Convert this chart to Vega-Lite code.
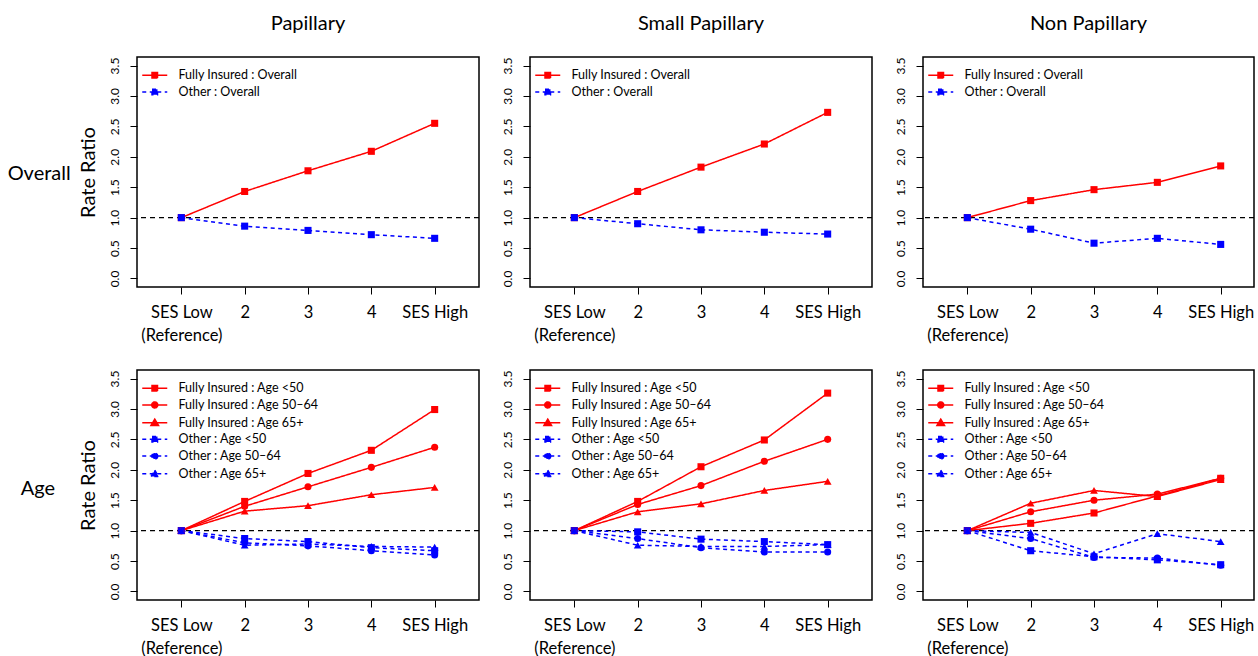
{
"$schema": "https://vega.github.io/schema/vega-lite/v6.json",
"padding": {"left": 7, "top": 13, "right": 0, "bottom": 0},
"background": "#ffffff",
"data": {"values": [
{"p":"Papillary","g":"Overall","s":"Fully Insured : Overall","x":1,"v":1.0},
{"p":"Papillary","g":"Overall","s":"Fully Insured : Overall","x":2,"v":1.43},
{"p":"Papillary","g":"Overall","s":"Fully Insured : Overall","x":3,"v":1.77},
{"p":"Papillary","g":"Overall","s":"Fully Insured : Overall","x":4,"v":2.09},
{"p":"Papillary","g":"Overall","s":"Fully Insured : Overall","x":5,"v":2.55},
{"p":"Papillary","g":"Overall","s":"Other : Overall","x":1,"v":1.0},
{"p":"Papillary","g":"Overall","s":"Other : Overall","x":2,"v":0.86},
{"p":"Papillary","g":"Overall","s":"Other : Overall","x":3,"v":0.79},
{"p":"Papillary","g":"Overall","s":"Other : Overall","x":4,"v":0.72},
{"p":"Papillary","g":"Overall","s":"Other : Overall","x":5,"v":0.66},
{"p":"Small Papillary","g":"Overall","s":"Fully Insured : Overall","x":1,"v":1.0},
{"p":"Small Papillary","g":"Overall","s":"Fully Insured : Overall","x":2,"v":1.43},
{"p":"Small Papillary","g":"Overall","s":"Fully Insured : Overall","x":3,"v":1.83},
{"p":"Small Papillary","g":"Overall","s":"Fully Insured : Overall","x":4,"v":2.21},
{"p":"Small Papillary","g":"Overall","s":"Fully Insured : Overall","x":5,"v":2.73},
{"p":"Small Papillary","g":"Overall","s":"Other : Overall","x":1,"v":1.0},
{"p":"Small Papillary","g":"Overall","s":"Other : Overall","x":2,"v":0.90},
{"p":"Small Papillary","g":"Overall","s":"Other : Overall","x":3,"v":0.80},
{"p":"Small Papillary","g":"Overall","s":"Other : Overall","x":4,"v":0.76},
{"p":"Small Papillary","g":"Overall","s":"Other : Overall","x":5,"v":0.73},
{"p":"Non Papillary","g":"Overall","s":"Fully Insured : Overall","x":1,"v":1.0},
{"p":"Non Papillary","g":"Overall","s":"Fully Insured : Overall","x":2,"v":1.28},
{"p":"Non Papillary","g":"Overall","s":"Fully Insured : Overall","x":3,"v":1.46},
{"p":"Non Papillary","g":"Overall","s":"Fully Insured : Overall","x":4,"v":1.58},
{"p":"Non Papillary","g":"Overall","s":"Fully Insured : Overall","x":5,"v":1.85},
{"p":"Non Papillary","g":"Overall","s":"Other : Overall","x":1,"v":1.0},
{"p":"Non Papillary","g":"Overall","s":"Other : Overall","x":2,"v":0.81},
{"p":"Non Papillary","g":"Overall","s":"Other : Overall","x":3,"v":0.58},
{"p":"Non Papillary","g":"Overall","s":"Other : Overall","x":4,"v":0.66},
{"p":"Non Papillary","g":"Overall","s":"Other : Overall","x":5,"v":0.56},
{"p":"Papillary","g":"Age","s":"Fully Insured : Age <50","x":1,"v":1.0},
{"p":"Papillary","g":"Age","s":"Fully Insured : Age <50","x":2,"v":1.48},
{"p":"Papillary","g":"Age","s":"Fully Insured : Age <50","x":3,"v":1.94},
{"p":"Papillary","g":"Age","s":"Fully Insured : Age <50","x":4,"v":2.32},
{"p":"Papillary","g":"Age","s":"Fully Insured : Age <50","x":5,"v":2.99},
{"p":"Papillary","g":"Age","s":"Fully Insured : Age 50–64","x":1,"v":1.0},
{"p":"Papillary","g":"Age","s":"Fully Insured : Age 50–64","x":2,"v":1.40},
{"p":"Papillary","g":"Age","s":"Fully Insured : Age 50–64","x":3,"v":1.72},
{"p":"Papillary","g":"Age","s":"Fully Insured : Age 50–64","x":4,"v":2.04},
{"p":"Papillary","g":"Age","s":"Fully Insured : Age 50–64","x":5,"v":2.37},
{"p":"Papillary","g":"Age","s":"Fully Insured : Age 65+","x":1,"v":1.0},
{"p":"Papillary","g":"Age","s":"Fully Insured : Age 65+","x":2,"v":1.32},
{"p":"Papillary","g":"Age","s":"Fully Insured : Age 65+","x":3,"v":1.41},
{"p":"Papillary","g":"Age","s":"Fully Insured : Age 65+","x":4,"v":1.59},
{"p":"Papillary","g":"Age","s":"Fully Insured : Age 65+","x":5,"v":1.71},
{"p":"Papillary","g":"Age","s":"Other : Age <50","x":1,"v":1.0},
{"p":"Papillary","g":"Age","s":"Other : Age <50","x":2,"v":0.87},
{"p":"Papillary","g":"Age","s":"Other : Age <50","x":3,"v":0.82},
{"p":"Papillary","g":"Age","s":"Other : Age <50","x":4,"v":0.72},
{"p":"Papillary","g":"Age","s":"Other : Age <50","x":5,"v":0.67},
{"p":"Papillary","g":"Age","s":"Other : Age 50–64","x":1,"v":1.0},
{"p":"Papillary","g":"Age","s":"Other : Age 50–64","x":2,"v":0.80},
{"p":"Papillary","g":"Age","s":"Other : Age 50–64","x":3,"v":0.75},
{"p":"Papillary","g":"Age","s":"Other : Age 50–64","x":4,"v":0.67},
{"p":"Papillary","g":"Age","s":"Other : Age 50–64","x":5,"v":0.60},
{"p":"Papillary","g":"Age","s":"Other : Age 65+","x":1,"v":1.0},
{"p":"Papillary","g":"Age","s":"Other : Age 65+","x":2,"v":0.76},
{"p":"Papillary","g":"Age","s":"Other : Age 65+","x":3,"v":0.78},
{"p":"Papillary","g":"Age","s":"Other : Age 65+","x":4,"v":0.74},
{"p":"Papillary","g":"Age","s":"Other : Age 65+","x":5,"v":0.73},
{"p":"Small Papillary","g":"Age","s":"Fully Insured : Age <50","x":1,"v":1.0},
{"p":"Small Papillary","g":"Age","s":"Fully Insured : Age <50","x":2,"v":1.48},
{"p":"Small Papillary","g":"Age","s":"Fully Insured : Age <50","x":3,"v":2.05},
{"p":"Small Papillary","g":"Age","s":"Fully Insured : Age <50","x":4,"v":2.49},
{"p":"Small Papillary","g":"Age","s":"Fully Insured : Age <50","x":5,"v":3.26},
{"p":"Small Papillary","g":"Age","s":"Fully Insured : Age 50–64","x":1,"v":1.0},
{"p":"Small Papillary","g":"Age","s":"Fully Insured : Age 50–64","x":2,"v":1.43},
{"p":"Small Papillary","g":"Age","s":"Fully Insured : Age 50–64","x":3,"v":1.74},
{"p":"Small Papillary","g":"Age","s":"Fully Insured : Age 50–64","x":4,"v":2.14},
{"p":"Small Papillary","g":"Age","s":"Fully Insured : Age 50–64","x":5,"v":2.50},
{"p":"Small Papillary","g":"Age","s":"Fully Insured : Age 65+","x":1,"v":1.0},
{"p":"Small Papillary","g":"Age","s":"Fully Insured : Age 65+","x":2,"v":1.31},
{"p":"Small Papillary","g":"Age","s":"Fully Insured : Age 65+","x":3,"v":1.44},
{"p":"Small Papillary","g":"Age","s":"Fully Insured : Age 65+","x":4,"v":1.66},
{"p":"Small Papillary","g":"Age","s":"Fully Insured : Age 65+","x":5,"v":1.81},
{"p":"Small Papillary","g":"Age","s":"Other : Age <50","x":1,"v":1.0},
{"p":"Small Papillary","g":"Age","s":"Other : Age <50","x":2,"v":0.98},
{"p":"Small Papillary","g":"Age","s":"Other : Age <50","x":3,"v":0.86},
{"p":"Small Papillary","g":"Age","s":"Other : Age <50","x":4,"v":0.82},
{"p":"Small Papillary","g":"Age","s":"Other : Age <50","x":5,"v":0.77},
{"p":"Small Papillary","g":"Age","s":"Other : Age 50–64","x":1,"v":1.0},
{"p":"Small Papillary","g":"Age","s":"Other : Age 50–64","x":2,"v":0.87},
{"p":"Small Papillary","g":"Age","s":"Other : Age 50–64","x":3,"v":0.72},
{"p":"Small Papillary","g":"Age","s":"Other : Age 50–64","x":4,"v":0.65},
{"p":"Small Papillary","g":"Age","s":"Other : Age 50–64","x":5,"v":0.65},
{"p":"Small Papillary","g":"Age","s":"Other : Age 65+","x":1,"v":1.0},
{"p":"Small Papillary","g":"Age","s":"Other : Age 65+","x":2,"v":0.76},
{"p":"Small Papillary","g":"Age","s":"Other : Age 65+","x":3,"v":0.74},
{"p":"Small Papillary","g":"Age","s":"Other : Age 65+","x":4,"v":0.74},
{"p":"Small Papillary","g":"Age","s":"Other : Age 65+","x":5,"v":0.77},
{"p":"Non Papillary","g":"Age","s":"Fully Insured : Age <50","x":1,"v":1.0},
{"p":"Non Papillary","g":"Age","s":"Fully Insured : Age <50","x":2,"v":1.12},
{"p":"Non Papillary","g":"Age","s":"Fully Insured : Age <50","x":3,"v":1.29},
{"p":"Non Papillary","g":"Age","s":"Fully Insured : Age <50","x":4,"v":1.57},
{"p":"Non Papillary","g":"Age","s":"Fully Insured : Age <50","x":5,"v":1.86},
{"p":"Non Papillary","g":"Age","s":"Fully Insured : Age 50–64","x":1,"v":1.0},
{"p":"Non Papillary","g":"Age","s":"Fully Insured : Age 50–64","x":2,"v":1.31},
{"p":"Non Papillary","g":"Age","s":"Fully Insured : Age 50–64","x":3,"v":1.50},
{"p":"Non Papillary","g":"Age","s":"Fully Insured : Age 50–64","x":4,"v":1.60},
{"p":"Non Papillary","g":"Age","s":"Fully Insured : Age 50–64","x":5,"v":1.86},
{"p":"Non Papillary","g":"Age","s":"Fully Insured : Age 65+","x":1,"v":1.0},
{"p":"Non Papillary","g":"Age","s":"Fully Insured : Age 65+","x":2,"v":1.45},
{"p":"Non Papillary","g":"Age","s":"Fully Insured : Age 65+","x":3,"v":1.66},
{"p":"Non Papillary","g":"Age","s":"Fully Insured : Age 65+","x":4,"v":1.56},
{"p":"Non Papillary","g":"Age","s":"Fully Insured : Age 65+","x":5,"v":1.84},
{"p":"Non Papillary","g":"Age","s":"Other : Age <50","x":1,"v":1.0},
{"p":"Non Papillary","g":"Age","s":"Other : Age <50","x":2,"v":0.67},
{"p":"Non Papillary","g":"Age","s":"Other : Age <50","x":3,"v":0.57},
{"p":"Non Papillary","g":"Age","s":"Other : Age <50","x":4,"v":0.52},
{"p":"Non Papillary","g":"Age","s":"Other : Age <50","x":5,"v":0.44},
{"p":"Non Papillary","g":"Age","s":"Other : Age 50–64","x":1,"v":1.0},
{"p":"Non Papillary","g":"Age","s":"Other : Age 50–64","x":2,"v":0.87},
{"p":"Non Papillary","g":"Age","s":"Other : Age 50–64","x":3,"v":0.56},
{"p":"Non Papillary","g":"Age","s":"Other : Age 50–64","x":4,"v":0.55},
{"p":"Non Papillary","g":"Age","s":"Other : Age 50–64","x":5,"v":0.43},
{"p":"Non Papillary","g":"Age","s":"Other : Age 65+","x":1,"v":1.0},
{"p":"Non Papillary","g":"Age","s":"Other : Age 65+","x":2,"v":0.97},
{"p":"Non Papillary","g":"Age","s":"Other : Age 65+","x":3,"v":0.62},
{"p":"Non Papillary","g":"Age","s":"Other : Age 65+","x":4,"v":0.95},
{"p":"Non Papillary","g":"Age","s":"Other : Age 65+","x":5,"v":0.82}
]},
"vconcat": [
{
"title": {"text": "Overall", "orient": "left", "angle": 0, "align": "center", "baseline": "middle", "anchor": "middle", "offset": -25, "dy": -5, "fontSize": 20},
"bounds": "flush",
"spacing": 51,
"resolve": {"scale": {"color": "independent", "shape": "independent", "strokeDash": "independent"}, "legend": {"color": "independent"}},
"hconcat": [
{"width": 342, "height": 230, "title": {"text": "Papillary"},
 "encoding": {"color": {"field": "s", "type": "nominal", "scale": {"domain": ["Fully Insured : Overall", "Other : Overall"], "range": ["#ff0000", "#0000ff"]}, "legend": {"title": null, "orient": "none", "legendX": 4, "legendY": 12}}},
 "layer": [
  {"data": {"values": [{"v": 1}]}, "mark": {"type": "rule", "strokeDash": [5, 4], "strokeWidth": 1.2}, "encoding": {"y": {"field": "v", "type": "quantitative", "scale": {"domain": [-0.14, 3.64], "nice": false, "zero": false}, "axis": {"values": [0, 0.5, 1, 1.5, 2, 2.5, 3, 3.5], "format": ".1f", "labelOverlap": false, "labelBound": false, "title": "Rate Ratio"}}, "color": {"value": "#000000"}}},
  {"transform": [{"filter": "datum.p === 'Papillary' && datum.g === 'Overall'"}], "mark": {"type": "line", "strokeWidth": 1.5},
   "encoding": {"x": {"field": "x", "type": "quantitative", "scale": {"domain": [0.3, 5.7], "nice": false, "zero": false}, "axis": {"values": [1, 2, 3, 4, 5], "title": null, "labelExpr": "datum.value == 1 ? ['SES Low', '(Reference)'] : datum.value == 5 ? 'SES High' : format(datum.value, 'd')"}},
    "y": {"field": "v", "type": "quantitative", "scale": {"domain": [-0.14, 3.64], "nice": false, "zero": false}, "axis": {"values": [0, 0.5, 1, 1.5, 2, 2.5, 3, 3.5], "format": ".1f", "labelOverlap": false, "labelBound": false, "title": "Rate Ratio"}},
    "strokeDash": {"field": "s", "type": "nominal", "scale": {"domain": ["Fully Insured : Overall", "Other : Overall"], "range": [[1, 0], [4, 3.5]]}}}},
  {"transform": [{"filter": "datum.p === 'Papillary' && datum.g === 'Overall'"}], "mark": {"type": "point", "filled": true, "opacity": 0},
   "encoding": {"x": {"field": "x", "type": "quantitative"}, "y": {"field": "v", "type": "quantitative", "axis": {"values": [0, 0.5, 1, 1.5, 2, 2.5, 3, 3.5], "format": ".1f", "labelOverlap": false, "labelBound": false, "title": "Rate Ratio"}},
    "shape": {"field": "s", "type": "nominal", "scale": {"domain": ["Fully Insured : Overall", "Other : Overall"], "range": ["M-1,0H4M0.95,-0.55H2.05V0.55H0.95Z", "M-1,0H4M0.95,-0.55H2.05V0.55H0.95Z"]}}}},
  {"transform": [{"filter": "datum.p === 'Papillary' && datum.g === 'Overall'"}], "mark": {"type": "point", "filled": true, "size": 50, "opacity": 1, "shape": "square"},
   "encoding": {"x": {"field": "x", "type": "quantitative"}, "y": {"field": "v", "type": "quantitative", "axis": {"values": [0, 0.5, 1, 1.5, 2, 2.5, 3, 3.5], "format": ".1f", "labelOverlap": false, "labelBound": false, "title": "Rate Ratio"}}}}
 ]},
{"width": 342, "height": 230, "title": {"text": "Small Papillary"},
 "encoding": {"color": {"field": "s", "type": "nominal", "scale": {"domain": ["Fully Insured : Overall", "Other : Overall"], "range": ["#ff0000", "#0000ff"]}, "legend": {"title": null, "orient": "none", "legendX": 4, "legendY": 12}}},
 "layer": [
  {"data": {"values": [{"v": 1}]}, "mark": {"type": "rule", "strokeDash": [5, 4], "strokeWidth": 1.2}, "encoding": {"y": {"field": "v", "type": "quantitative", "scale": {"domain": [-0.14, 3.64], "nice": false, "zero": false}, "axis": {"values": [0, 0.5, 1, 1.5, 2, 2.5, 3, 3.5], "format": ".1f", "labelOverlap": false, "labelBound": false, "title": null}}, "color": {"value": "#000000"}}},
  {"transform": [{"filter": "datum.p === 'Small Papillary' && datum.g === 'Overall'"}], "mark": {"type": "line", "strokeWidth": 1.5},
   "encoding": {"x": {"field": "x", "type": "quantitative", "scale": {"domain": [0.3, 5.7], "nice": false, "zero": false}, "axis": {"values": [1, 2, 3, 4, 5], "title": null, "labelExpr": "datum.value == 1 ? ['SES Low', '(Reference)'] : datum.value == 5 ? 'SES High' : format(datum.value, 'd')"}},
    "y": {"field": "v", "type": "quantitative", "scale": {"domain": [-0.14, 3.64], "nice": false, "zero": false}, "axis": {"values": [0, 0.5, 1, 1.5, 2, 2.5, 3, 3.5], "format": ".1f", "labelOverlap": false, "labelBound": false, "title": null}},
    "strokeDash": {"field": "s", "type": "nominal", "scale": {"domain": ["Fully Insured : Overall", "Other : Overall"], "range": [[1, 0], [4, 3.5]]}}}},
  {"transform": [{"filter": "datum.p === 'Small Papillary' && datum.g === 'Overall'"}], "mark": {"type": "point", "filled": true, "opacity": 0},
   "encoding": {"x": {"field": "x", "type": "quantitative"}, "y": {"field": "v", "type": "quantitative", "axis": {"values": [0, 0.5, 1, 1.5, 2, 2.5, 3, 3.5], "format": ".1f", "labelOverlap": false, "labelBound": false, "title": null}},
    "shape": {"field": "s", "type": "nominal", "scale": {"domain": ["Fully Insured : Overall", "Other : Overall"], "range": ["M-1,0H4M0.95,-0.55H2.05V0.55H0.95Z", "M-1,0H4M0.95,-0.55H2.05V0.55H0.95Z"]}}}},
  {"transform": [{"filter": "datum.p === 'Small Papillary' && datum.g === 'Overall'"}], "mark": {"type": "point", "filled": true, "size": 50, "opacity": 1, "shape": "square"},
   "encoding": {"x": {"field": "x", "type": "quantitative"}, "y": {"field": "v", "type": "quantitative", "axis": {"values": [0, 0.5, 1, 1.5, 2, 2.5, 3, 3.5], "format": ".1f", "labelOverlap": false, "labelBound": false, "title": null}}}}
 ]},
{"width": 331, "height": 230, "title": {"text": "Non Papillary"},
 "encoding": {"color": {"field": "s", "type": "nominal", "scale": {"domain": ["Fully Insured : Overall", "Other : Overall"], "range": ["#ff0000", "#0000ff"]}, "legend": {"title": null, "orient": "none", "legendX": 4, "legendY": 12}}},
 "layer": [
  {"data": {"values": [{"v": 1}]}, "mark": {"type": "rule", "strokeDash": [5, 4], "strokeWidth": 1.2}, "encoding": {"y": {"field": "v", "type": "quantitative", "scale": {"domain": [-0.14, 3.64], "nice": false, "zero": false}, "axis": {"values": [0, 0.5, 1, 1.5, 2, 2.5, 3, 3.5], "format": ".1f", "labelOverlap": false, "labelBound": false, "title": null}}, "color": {"value": "#000000"}}},
  {"transform": [{"filter": "datum.p === 'Non Papillary' && datum.g === 'Overall'"}], "mark": {"type": "line", "strokeWidth": 1.5},
   "encoding": {"x": {"field": "x", "type": "quantitative", "scale": {"domain": [0.3, 5.526], "nice": false, "zero": false}, "axis": {"values": [1, 2, 3, 4, 5], "title": null, "labelExpr": "datum.value == 1 ? ['SES Low', '(Reference)'] : datum.value == 5 ? 'SES High' : format(datum.value, 'd')"}},
    "y": {"field": "v", "type": "quantitative", "scale": {"domain": [-0.14, 3.64], "nice": false, "zero": false}, "axis": {"values": [0, 0.5, 1, 1.5, 2, 2.5, 3, 3.5], "format": ".1f", "labelOverlap": false, "labelBound": false, "title": null}},
    "strokeDash": {"field": "s", "type": "nominal", "scale": {"domain": ["Fully Insured : Overall", "Other : Overall"], "range": [[1, 0], [4, 3.5]]}}}},
  {"transform": [{"filter": "datum.p === 'Non Papillary' && datum.g === 'Overall'"}], "mark": {"type": "point", "filled": true, "opacity": 0},
   "encoding": {"x": {"field": "x", "type": "quantitative"}, "y": {"field": "v", "type": "quantitative", "axis": {"values": [0, 0.5, 1, 1.5, 2, 2.5, 3, 3.5], "format": ".1f", "labelOverlap": false, "labelBound": false, "title": null}},
    "shape": {"field": "s", "type": "nominal", "scale": {"domain": ["Fully Insured : Overall", "Other : Overall"], "range": ["M-1,0H4M0.95,-0.55H2.05V0.55H0.95Z", "M-1,0H4M0.95,-0.55H2.05V0.55H0.95Z"]}}}},
  {"transform": [{"filter": "datum.p === 'Non Papillary' && datum.g === 'Overall'"}], "mark": {"type": "point", "filled": true, "size": 50, "opacity": 1, "shape": "square"},
   "encoding": {"x": {"field": "x", "type": "quantitative"}, "y": {"field": "v", "type": "quantitative", "axis": {"values": [0, 0.5, 1, 1.5, 2, 2.5, 3, 3.5], "format": ".1f", "labelOverlap": false, "labelBound": false, "title": null}}}}
 ]}
]
},
{
"title": {"text": "Age", "orient": "left", "angle": 0, "align": "center", "baseline": "middle", "anchor": "middle", "offset": 5, "dy": -24, "fontSize": 20},
"bounds": "flush",
"spacing": 51,
"resolve": {"scale": {"color": "independent", "shape": "independent", "strokeDash": "independent"}, "legend": {"color": "independent"}},
"hconcat": [
{"width": 342, "height": 230,
 "encoding": {"color": {"field": "s", "type": "nominal", "scale": {"domain": ["Fully Insured : Age <50", "Fully Insured : Age 50–64", "Fully Insured : Age 65+", "Other : Age <50", "Other : Age 50–64", "Other : Age 65+"], "range": ["#ff0000", "#ff0000", "#ff0000", "#0000ff", "#0000ff", "#0000ff"]}, "legend": {"title": null, "orient": "none", "legendX": 4, "legendY": 12}}},
 "layer": [
  {"data": {"values": [{"v": 1}]}, "mark": {"type": "rule", "strokeDash": [5, 4], "strokeWidth": 1.2}, "encoding": {"y": {"field": "v", "type": "quantitative", "scale": {"domain": [-0.14, 3.64], "nice": false, "zero": false}, "axis": {"values": [0, 0.5, 1, 1.5, 2, 2.5, 3, 3.5], "format": ".1f", "labelOverlap": false, "labelBound": false, "title": "Rate Ratio"}}, "color": {"value": "#000000"}}},
  {"transform": [{"filter": "datum.p === 'Papillary' && datum.g === 'Age'"}], "mark": {"type": "line", "strokeWidth": 1.5},
   "encoding": {"x": {"field": "x", "type": "quantitative", "scale": {"domain": [0.3, 5.7], "nice": false, "zero": false}, "axis": {"values": [1, 2, 3, 4, 5], "title": null, "labelExpr": "datum.value == 1 ? ['SES Low', '(Reference)'] : datum.value == 5 ? 'SES High' : format(datum.value, 'd')"}},
    "y": {"field": "v", "type": "quantitative", "scale": {"domain": [-0.14, 3.64], "nice": false, "zero": false}, "axis": {"values": [0, 0.5, 1, 1.5, 2, 2.5, 3, 3.5], "format": ".1f", "labelOverlap": false, "labelBound": false, "title": "Rate Ratio"}},
    "strokeDash": {"field": "s", "type": "nominal", "scale": {"domain": ["Fully Insured : Age <50", "Fully Insured : Age 50–64", "Fully Insured : Age 65+", "Other : Age <50", "Other : Age 50–64", "Other : Age 65+"], "range": [[1, 0], [1, 0], [1, 0], [4, 3.5], [4, 3.5], [4, 3.5]]}}}},
  {"transform": [{"filter": "datum.p === 'Papillary' && datum.g === 'Age'"}], "mark": {"type": "point", "filled": true, "opacity": 0},
   "encoding": {"x": {"field": "x", "type": "quantitative"}, "y": {"field": "v", "type": "quantitative", "axis": {"values": [0, 0.5, 1, 1.5, 2, 2.5, 3, 3.5], "format": ".1f", "labelOverlap": false, "labelBound": false, "title": "Rate Ratio"}},
    "shape": {"field": "s", "type": "nominal", "scale": {"domain": ["Fully Insured : Age <50", "Fully Insured : Age 50–64", "Fully Insured : Age 65+", "Other : Age <50", "Other : Age 50–64", "Other : Age 65+"], "range": ["M-1,0H4M0.95,-0.55H2.05V0.55H0.95Z", "M-1,0H4M2.1,0A0.6,0.6,0,1,1,0.9,0A0.6,0.6,0,1,1,2.1,0Z", "M-1,0H4M1.5,-0.7L2.25,0.55H0.75Z", "M-1,0H4M0.95,-0.55H2.05V0.55H0.95Z", "M-1,0H4M2.1,0A0.6,0.6,0,1,1,0.9,0A0.6,0.6,0,1,1,2.1,0Z", "M-1,0H4M1.5,-0.7L2.25,0.55H0.75Z"]}}}},
  {"transform": [{"filter": "datum.p === 'Papillary' && datum.g === 'Age' && indexof(datum.s, '<50') >= 0"}], "mark": {"type": "point", "filled": true, "size": 50, "opacity": 1, "shape": "square"},
   "encoding": {"x": {"field": "x", "type": "quantitative"}, "y": {"field": "v", "type": "quantitative", "axis": {"values": [0, 0.5, 1, 1.5, 2, 2.5, 3, 3.5], "format": ".1f", "labelOverlap": false, "labelBound": false, "title": "Rate Ratio"}}}},
  {"transform": [{"filter": "datum.p === 'Papillary' && datum.g === 'Age' && indexof(datum.s, '50–64') >= 0"}], "mark": {"type": "point", "filled": true, "size": 50, "opacity": 1, "shape": "circle"},
   "encoding": {"x": {"field": "x", "type": "quantitative"}, "y": {"field": "v", "type": "quantitative", "axis": {"values": [0, 0.5, 1, 1.5, 2, 2.5, 3, 3.5], "format": ".1f", "labelOverlap": false, "labelBound": false, "title": "Rate Ratio"}}}},
  {"transform": [{"filter": "datum.p === 'Papillary' && datum.g === 'Age' && indexof(datum.s, '65+') >= 0"}], "mark": {"type": "point", "filled": true, "size": 60, "opacity": 1, "shape": "triangle-up"},
   "encoding": {"x": {"field": "x", "type": "quantitative"}, "y": {"field": "v", "type": "quantitative", "axis": {"values": [0, 0.5, 1, 1.5, 2, 2.5, 3, 3.5], "format": ".1f", "labelOverlap": false, "labelBound": false, "title": "Rate Ratio"}}}}
 ]},
{"width": 342, "height": 230,
 "encoding": {"color": {"field": "s", "type": "nominal", "scale": {"domain": ["Fully Insured : Age <50", "Fully Insured : Age 50–64", "Fully Insured : Age 65+", "Other : Age <50", "Other : Age 50–64", "Other : Age 65+"], "range": ["#ff0000", "#ff0000", "#ff0000", "#0000ff", "#0000ff", "#0000ff"]}, "legend": {"title": null, "orient": "none", "legendX": 4, "legendY": 12}}},
 "layer": [
  {"data": {"values": [{"v": 1}]}, "mark": {"type": "rule", "strokeDash": [5, 4], "strokeWidth": 1.2}, "encoding": {"y": {"field": "v", "type": "quantitative", "scale": {"domain": [-0.14, 3.64], "nice": false, "zero": false}, "axis": {"values": [0, 0.5, 1, 1.5, 2, 2.5, 3, 3.5], "format": ".1f", "labelOverlap": false, "labelBound": false, "title": null}}, "color": {"value": "#000000"}}},
  {"transform": [{"filter": "datum.p === 'Small Papillary' && datum.g === 'Age'"}], "mark": {"type": "line", "strokeWidth": 1.5},
   "encoding": {"x": {"field": "x", "type": "quantitative", "scale": {"domain": [0.3, 5.7], "nice": false, "zero": false}, "axis": {"values": [1, 2, 3, 4, 5], "title": null, "labelExpr": "datum.value == 1 ? ['SES Low', '(Reference)'] : datum.value == 5 ? 'SES High' : format(datum.value, 'd')"}},
    "y": {"field": "v", "type": "quantitative", "scale": {"domain": [-0.14, 3.64], "nice": false, "zero": false}, "axis": {"values": [0, 0.5, 1, 1.5, 2, 2.5, 3, 3.5], "format": ".1f", "labelOverlap": false, "labelBound": false, "title": null}},
    "strokeDash": {"field": "s", "type": "nominal", "scale": {"domain": ["Fully Insured : Age <50", "Fully Insured : Age 50–64", "Fully Insured : Age 65+", "Other : Age <50", "Other : Age 50–64", "Other : Age 65+"], "range": [[1, 0], [1, 0], [1, 0], [4, 3.5], [4, 3.5], [4, 3.5]]}}}},
  {"transform": [{"filter": "datum.p === 'Small Papillary' && datum.g === 'Age'"}], "mark": {"type": "point", "filled": true, "opacity": 0},
   "encoding": {"x": {"field": "x", "type": "quantitative"}, "y": {"field": "v", "type": "quantitative", "axis": {"values": [0, 0.5, 1, 1.5, 2, 2.5, 3, 3.5], "format": ".1f", "labelOverlap": false, "labelBound": false, "title": null}},
    "shape": {"field": "s", "type": "nominal", "scale": {"domain": ["Fully Insured : Age <50", "Fully Insured : Age 50–64", "Fully Insured : Age 65+", "Other : Age <50", "Other : Age 50–64", "Other : Age 65+"], "range": ["M-1,0H4M0.95,-0.55H2.05V0.55H0.95Z", "M-1,0H4M2.1,0A0.6,0.6,0,1,1,0.9,0A0.6,0.6,0,1,1,2.1,0Z", "M-1,0H4M1.5,-0.7L2.25,0.55H0.75Z", "M-1,0H4M0.95,-0.55H2.05V0.55H0.95Z", "M-1,0H4M2.1,0A0.6,0.6,0,1,1,0.9,0A0.6,0.6,0,1,1,2.1,0Z", "M-1,0H4M1.5,-0.7L2.25,0.55H0.75Z"]}}}},
  {"transform": [{"filter": "datum.p === 'Small Papillary' && datum.g === 'Age' && indexof(datum.s, '<50') >= 0"}], "mark": {"type": "point", "filled": true, "size": 50, "opacity": 1, "shape": "square"},
   "encoding": {"x": {"field": "x", "type": "quantitative"}, "y": {"field": "v", "type": "quantitative", "axis": {"values": [0, 0.5, 1, 1.5, 2, 2.5, 3, 3.5], "format": ".1f", "labelOverlap": false, "labelBound": false, "title": null}}}},
  {"transform": [{"filter": "datum.p === 'Small Papillary' && datum.g === 'Age' && indexof(datum.s, '50–64') >= 0"}], "mark": {"type": "point", "filled": true, "size": 50, "opacity": 1, "shape": "circle"},
   "encoding": {"x": {"field": "x", "type": "quantitative"}, "y": {"field": "v", "type": "quantitative", "axis": {"values": [0, 0.5, 1, 1.5, 2, 2.5, 3, 3.5], "format": ".1f", "labelOverlap": false, "labelBound": false, "title": null}}}},
  {"transform": [{"filter": "datum.p === 'Small Papillary' && datum.g === 'Age' && indexof(datum.s, '65+') >= 0"}], "mark": {"type": "point", "filled": true, "size": 60, "opacity": 1, "shape": "triangle-up"},
   "encoding": {"x": {"field": "x", "type": "quantitative"}, "y": {"field": "v", "type": "quantitative", "axis": {"values": [0, 0.5, 1, 1.5, 2, 2.5, 3, 3.5], "format": ".1f", "labelOverlap": false, "labelBound": false, "title": null}}}}
 ]},
{"width": 331, "height": 230,
 "encoding": {"color": {"field": "s", "type": "nominal", "scale": {"domain": ["Fully Insured : Age <50", "Fully Insured : Age 50–64", "Fully Insured : Age 65+", "Other : Age <50", "Other : Age 50–64", "Other : Age 65+"], "range": ["#ff0000", "#ff0000", "#ff0000", "#0000ff", "#0000ff", "#0000ff"]}, "legend": {"title": null, "orient": "none", "legendX": 4, "legendY": 12}}},
 "layer": [
  {"data": {"values": [{"v": 1}]}, "mark": {"type": "rule", "strokeDash": [5, 4], "strokeWidth": 1.2}, "encoding": {"y": {"field": "v", "type": "quantitative", "scale": {"domain": [-0.14, 3.64], "nice": false, "zero": false}, "axis": {"values": [0, 0.5, 1, 1.5, 2, 2.5, 3, 3.5], "format": ".1f", "labelOverlap": false, "labelBound": false, "title": null}}, "color": {"value": "#000000"}}},
  {"transform": [{"filter": "datum.p === 'Non Papillary' && datum.g === 'Age'"}], "mark": {"type": "line", "strokeWidth": 1.5},
   "encoding": {"x": {"field": "x", "type": "quantitative", "scale": {"domain": [0.3, 5.526], "nice": false, "zero": false}, "axis": {"values": [1, 2, 3, 4, 5], "title": null, "labelExpr": "datum.value == 1 ? ['SES Low', '(Reference)'] : datum.value == 5 ? 'SES High' : format(datum.value, 'd')"}},
    "y": {"field": "v", "type": "quantitative", "scale": {"domain": [-0.14, 3.64], "nice": false, "zero": false}, "axis": {"values": [0, 0.5, 1, 1.5, 2, 2.5, 3, 3.5], "format": ".1f", "labelOverlap": false, "labelBound": false, "title": null}},
    "strokeDash": {"field": "s", "type": "nominal", "scale": {"domain": ["Fully Insured : Age <50", "Fully Insured : Age 50–64", "Fully Insured : Age 65+", "Other : Age <50", "Other : Age 50–64", "Other : Age 65+"], "range": [[1, 0], [1, 0], [1, 0], [4, 3.5], [4, 3.5], [4, 3.5]]}}}},
  {"transform": [{"filter": "datum.p === 'Non Papillary' && datum.g === 'Age'"}], "mark": {"type": "point", "filled": true, "opacity": 0},
   "encoding": {"x": {"field": "x", "type": "quantitative"}, "y": {"field": "v", "type": "quantitative", "axis": {"values": [0, 0.5, 1, 1.5, 2, 2.5, 3, 3.5], "format": ".1f", "labelOverlap": false, "labelBound": false, "title": null}},
    "shape": {"field": "s", "type": "nominal", "scale": {"domain": ["Fully Insured : Age <50", "Fully Insured : Age 50–64", "Fully Insured : Age 65+", "Other : Age <50", "Other : Age 50–64", "Other : Age 65+"], "range": ["M-1,0H4M0.95,-0.55H2.05V0.55H0.95Z", "M-1,0H4M2.1,0A0.6,0.6,0,1,1,0.9,0A0.6,0.6,0,1,1,2.1,0Z", "M-1,0H4M1.5,-0.7L2.25,0.55H0.75Z", "M-1,0H4M0.95,-0.55H2.05V0.55H0.95Z", "M-1,0H4M2.1,0A0.6,0.6,0,1,1,0.9,0A0.6,0.6,0,1,1,2.1,0Z", "M-1,0H4M1.5,-0.7L2.25,0.55H0.75Z"]}}}},
  {"transform": [{"filter": "datum.p === 'Non Papillary' && datum.g === 'Age' && indexof(datum.s, '<50') >= 0"}], "mark": {"type": "point", "filled": true, "size": 50, "opacity": 1, "shape": "square"},
   "encoding": {"x": {"field": "x", "type": "quantitative"}, "y": {"field": "v", "type": "quantitative", "axis": {"values": [0, 0.5, 1, 1.5, 2, 2.5, 3, 3.5], "format": ".1f", "labelOverlap": false, "labelBound": false, "title": null}}}},
  {"transform": [{"filter": "datum.p === 'Non Papillary' && datum.g === 'Age' && indexof(datum.s, '50–64') >= 0"}], "mark": {"type": "point", "filled": true, "size": 50, "opacity": 1, "shape": "circle"},
   "encoding": {"x": {"field": "x", "type": "quantitative"}, "y": {"field": "v", "type": "quantitative", "axis": {"values": [0, 0.5, 1, 1.5, 2, 2.5, 3, 3.5], "format": ".1f", "labelOverlap": false, "labelBound": false, "title": null}}}},
  {"transform": [{"filter": "datum.p === 'Non Papillary' && datum.g === 'Age' && indexof(datum.s, '65+') >= 0"}], "mark": {"type": "point", "filled": true, "size": 60, "opacity": 1, "shape": "triangle-up"},
   "encoding": {"x": {"field": "x", "type": "quantitative"}, "y": {"field": "v", "type": "quantitative", "axis": {"values": [0, 0.5, 1, 1.5, 2, 2.5, 3, 3.5], "format": ".1f", "labelOverlap": false, "labelBound": false, "title": null}}}}
 ]}
]
}
],
"spacing": 24,
"resolve": {"scale": {"color": "independent", "shape": "independent", "strokeDash": "independent"}, "legend": {"color": "independent"}},
"config": {
 "font": "Lato",
 "view": {"stroke": "#000000", "strokeWidth": 1.5},
 "axis": {"grid": false, "domain": false, "ticks": true, "tickColor": "#000000", "tickSize": 7, "tickWidth": 1, "labelColor": "#000000", "titleColor": "#000000", "titleFontWeight": "normal", "labelOverlap": false},
 "axisX": {"labelFontSize": 16.5, "labelPadding": 10, "labelLineHeight": 23, "labelBaseline": "top", "labelFlush": false, "labelOverlap": false},
 "axisY": {"labelFontSize": 12, "labelAngle": 270, "labelAlign": "center", "labelBaseline": "bottom", "labelPadding": 9, "labelOverlap": false, "labelFlush": false, "titleFontSize": 20, "titlePadding": 10},
 "legend": {"symbolSize": 100, "symbolOpacity": 1, "labelFontSize": 12.5, "labelOffset": 25, "rowPadding": 3.7, "padding": 0, "labelColor": "#000000", "symbolStrokeWidth": 1.5, "labelFont": "Lato"},
 "title": {"fontSize": 20, "fontWeight": "normal", "color": "#000000", "offset": 23, "baseline": "alphabetic"}
}
}
